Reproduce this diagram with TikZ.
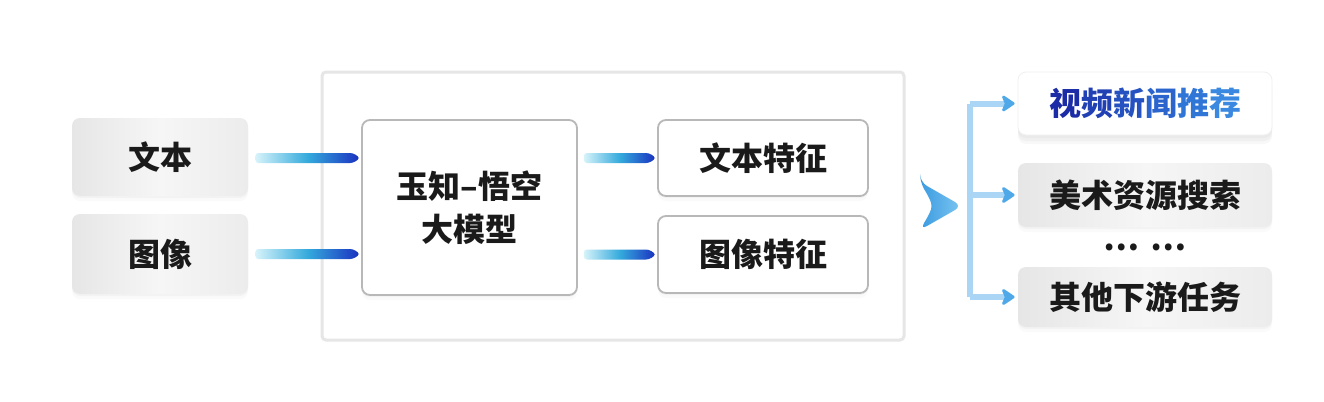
\documentclass[tikz,border=0pt]{standalone}
\usepackage{fontspec}
\newfontfamily\cjk{Noto Sans CJK SC}
\usetikzlibrary{arrows.meta,calc,shadows}
\definecolor{gA}{HTML}{E6E6E6}
\definecolor{gB}{HTML}{ECECEC}
\definecolor{gC}{HTML}{F6F6F6}
\definecolor{bord}{HTML}{B8B8B8}
\definecolor{outerc}{HTML}{E6E6E6}
\definecolor{gaA}{HTML}{D6F3FA}
\definecolor{gaB}{HTML}{34AADC}
\definecolor{gaC}{HTML}{1A2FC0}
\definecolor{brline}{HTML}{ABD5F4}
\definecolor{brtip}{HTML}{4FA8E8}
\definecolor{triA}{HTML}{3B9BE0}
\definecolor{triB}{HTML}{7CC6F2}
\definecolor{tA}{HTML}{1C2CA6}
\definecolor{tB}{HTML}{2040B4}
\definecolor{tC}{HTML}{2552C0}
\definecolor{tD}{HTML}{2A64CC}
\definecolor{tE}{HTML}{3076D6}
\definecolor{tF}{HTML}{3A88E0}
\definecolor{txt}{HTML}{1A1A1A}
\newcommand\gradarr[2]{%
  \shade[left color=gaA, right color=gaC, middle color=gaB, rounded corners=1.5pt]
    ($(#1)+(0,-5)$) -- ($(#2)+(-7,-5)$) -- (#2) -- ($(#2)+(-7,5)$) -- ($(#1)+(0,5)$) -- cycle;}
\begin{document}
\begin{tikzpicture}[x=0.5pt,y=-0.5pt,
  font=\cjk\bfseries\fontsize{16pt}{21.5pt}\selectfont, text=txt,
  softshadow/.style={drop shadow={opacity=0.05, shadow xshift=0pt, shadow yshift=-1pt},
                     drop shadow={opacity=0.04, shadow xshift=0pt, shadow yshift=-2.5pt}},
  graybox/.style={rounded corners=4pt, left color=gA, right color=gB, middle color=gC,
                  inner sep=0pt, softshadow},
  whitebox/.style={rounded corners=4pt, draw=bord, line width=0.9pt, fill=white,
                   inner sep=0pt, softshadow},
  branch/.style={draw=brline, line width=3pt},
  branchtip/.style={branch, -{Stealth[length=7.5pt,width=10pt,inset=2pt,round,color=brtip]}, shorten >=1.5pt}
]
\fill[white] (0,0) rectangle (1324,402);
\useasboundingbox (0,0) rectangle (1324,402);

% outer frame
\node[draw=outerc, line width=1.5pt, fill=white, rounded corners=2pt,
      minimum width=291pt, minimum height=134pt, inner sep=0pt] (outer) at (613,206) {};

% inputs
\node[graybox, minimum width=88pt, minimum height=39pt] (wb) at (160,157) {文本};
\node[graybox, minimum width=88pt, minimum height=40pt] (ib) at (160,254) {图像};

% model
\node[whitebox, minimum width=107.5pt, minimum height=87.5pt, align=center] (model) at (469.5,207.5) {玉知–悟空\\大模型};

% features
\node[whitebox, minimum width=105pt, minimum height=38pt] (tf) at (763,158) {文本特征};
\node[whitebox, minimum width=105pt, minimum height=38.5pt] (if) at (763,254.5) {图像特征};

% gradient arrows
\coordinate (a1s) at ($(wb.east)+(7,1)$);
\coordinate (a1e) at ($(wb.east -| model.west)+(-1,1)$);
\coordinate (a2s) at ($(ib.east)+(7,0)$);
\coordinate (a2e) at ($(ib.east -| model.west)+(-1,0)$);
\coordinate (a3s) at ($(tf.west -| model.east)+(6,0)$);
\coordinate (a3e) at ($(tf.west)+(-1,0)$);
\coordinate (a4s) at ($(if.west -| model.east)+(6,0)$);
\coordinate (a4e) at ($(if.west)+(-1,0)$);
\gradarr{a1s}{a1e}
\gradarr{a2s}{a2e}
\gradarr{a3s}{a3e}
\gradarr{a4s}{a4e}

% tasks
\node[rounded corners=4pt, fill=white, draw=gray!12, inner sep=0pt,
      minimum width=127pt, minimum height=31.5pt,
      drop shadow={opacity=0.06, shadow xshift=0pt, shadow yshift=-1.5pt},
      drop shadow={opacity=0.06, shadow xshift=0pt, shadow yshift=-3pt},
      drop shadow={opacity=0.05, shadow xshift=0pt, shadow yshift=-4.5pt}] (t1) at (1145,103.5)
  {{\color{tA}视}{\color{tB}频}{\color{tC}新}{\color{tD}闻}{\color{tE}推}{\color{tF}荐}};
\node[graybox, minimum width=127pt, minimum height=32pt] (t2) at (1145,195) {美术资源搜索};
\node[inner sep=0pt] (dots) at (1145,247) {…\,\,…};
\node[graybox, minimum width=127pt, minimum height=30pt] (t3) at (1145,297) {其他下游任务};

% triangle pointer
\shade[left color=triA, right color=triB, rounded corners=4pt]
  (920,182) -- (962,206) -- (920,230) .. controls (934,206) .. (920,182) -- cycle;

% branch connector
\coordinate (bx) at ($(t2.west)+(-48,0)$);
\draw[branch] (bx |- t3.west) -- (bx |- t1.west);
\draw[branchtip] (bx |- t1.west) -- (t1.west);
\draw[branchtip] (bx) -- (t2.west);
\draw[branchtip] (bx |- t3.west) -- (t3.west);
\end{tikzpicture}
\end{document}
